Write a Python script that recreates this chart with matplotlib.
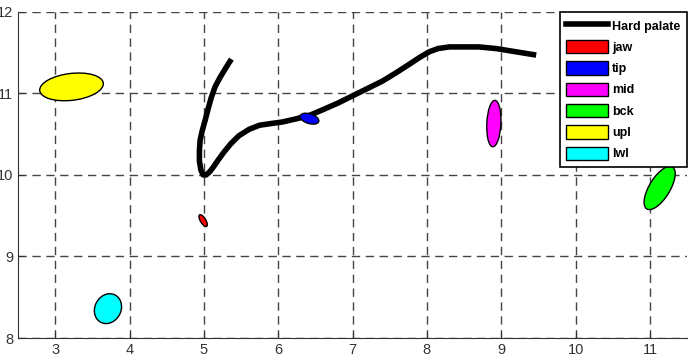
import matplotlib.pyplot as plt
from matplotlib.patches import Ellipse, Patch
from matplotlib.lines import Line2D

plt.rcParams['font.family'] = ['Liberation Sans', 'DejaVu Sans']

# hard palate trace
palate_x = [5.37, 5.30, 5.22, 5.15, 5.10, 5.06, 5.02, 4.98, 4.95, 4.94, 4.94, 4.96, 4.99,
            5.03, 5.08, 5.13, 5.19, 5.27, 5.36, 5.47, 5.61, 5.75, 5.90, 6.06, 6.25,
            6.42, 6.60, 6.80, 7.00, 7.20, 7.40, 7.58, 7.75, 7.90, 8.03, 8.15, 8.30,
            8.50, 8.70, 8.93, 9.20, 9.47]
palate_y = [11.42, 11.32, 11.20, 11.08, 10.95, 10.82, 10.68, 10.55, 10.43, 10.30, 10.17, 10.06, 10.00,
            10.00, 10.04, 10.10, 10.18, 10.28, 10.38, 10.48, 10.56, 10.61, 10.63, 10.65, 10.69,
            10.73, 10.80, 10.88, 10.97, 11.06, 11.15, 11.25, 11.35, 11.44, 11.51, 11.55, 11.57,
            11.57, 11.57, 11.55, 11.51, 11.47]

# articulator ellipses
names = ['jaw', 'tip', 'mid', 'bck', 'upl', 'lwl']
colors = ['#ff0000', '#0000ff', '#ff00ff', '#00ff00', '#ffff00', '#00ffff']
cx = [4.99, 6.42, 8.90, 11.13, 3.22, 3.71]
cy = [9.44, 10.69, 10.63, 9.84, 11.08, 8.36]
widths = [0.17, 0.26, 0.57, 0.62, 0.86, 0.39]
heights = [0.07, 0.12, 0.19, 0.27, 0.33, 0.34]
angles = [125, -15, 87, 55, 6, 45]

fig = plt.figure(figsize=(6.92, 3.64), dpi=100)
ax = fig.add_axes([0.026, 0.0714, 0.967, 0.896])

ax.plot(palate_x, palate_y, color='black', lw=4, solid_capstyle='butt',
        solid_joinstyle='round', zorder=3)
for i in range(len(names)):
    e = Ellipse((cx[i], cy[i]), widths[i], heights[i], angle=angles[i],
                facecolor=colors[i], edgecolor='black', lw=1, zorder=4)
    ax.add_patch(e)

ax.set_xlim(2.5, 11.5)
ax.set_ylim(8, 12)
ax.set_xticks(range(3, 12))
ax.set_yticks(range(8, 13))
ax.grid(True, linestyle=(0, (6, 4)), color='#444444', lw=1)
ax.set_axisbelow(True)
ax.spines['top'].set_visible(False)
ax.spines['right'].set_visible(False)
ax.spines['left'].set_color('#333333')
ax.spines['bottom'].set_color('#333333')
ax.tick_params(direction='in', length=4, labelsize=10.5, colors='#333333', labelcolor='#333333')

handles = [Line2D([0], [0], color='black', lw=4)]
for i in range(len(names)):
    handles.append(Patch(facecolor=colors[i], edgecolor='black', lw=1))
leg = ax.legend(handles, ['Hard palate'] + names, loc='upper right',
                prop={'size': 9, 'weight': 'bold'}, fancybox=False, framealpha=1,
                edgecolor='black', borderaxespad=0.05, handlelength=3.4,
                handleheight=1.25, labelspacing=0.6, handletextpad=0.3, borderpad=0.5)
leg.get_frame().set_linewidth(1.2)

fig.savefig('out.png', dpi=100)
